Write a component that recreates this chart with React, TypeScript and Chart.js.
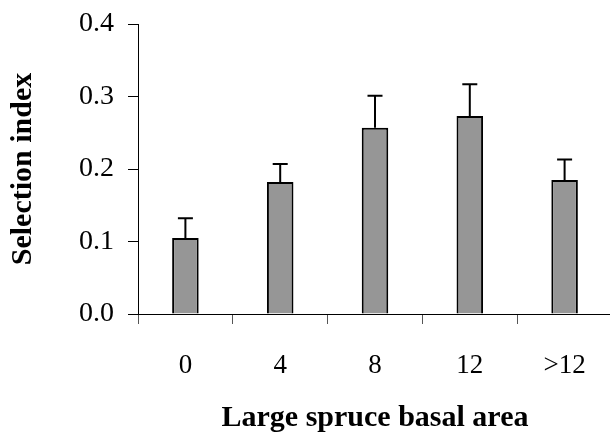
import React, { useEffect, useRef } from "react";
import { Chart, registerables } from "chart.js";

Chart.register(...registerables);

const categories = ["0", "4", "8", "12", ">12"];
const selectionIndex = [0.105, 0.182, 0.257, 0.273, 0.185];
const errorUpper = [0.027, 0.025, 0.044, 0.044, 0.028];
const yMin = 0;
const yMax = 0.4;
const yStep = 0.1;

const FONT = "'Liberation Serif', 'Times New Roman', serif";

const errorBarPlugin = {
  id: "errorBars",
  afterDatasetsDraw(chart: any) {
    const ctx = chart.ctx;
    const meta = chart.getDatasetMeta(0);
    const y = chart.scales.y;
    ctx.save();
    ctx.strokeStyle = "#000";
    ctx.lineWidth = 2;
    meta.data.forEach((bar: any, i: number) => {
      const v = selectionIndex[i];
      const base = y.getPixelForValue(v);
      const top = y.getPixelForValue(v + errorUpper[i]);
      ctx.beginPath();
      ctx.moveTo(bar.x, base);
      ctx.lineTo(bar.x, top);
      ctx.moveTo(bar.x - 7.5, top);
      ctx.lineTo(bar.x + 7.5, top);
      ctx.stroke();
    });
    ctx.restore();
  },
};

export default function App() {
  const ref = useRef<HTMLCanvasElement | null>(null);

  useEffect(() => {
    if (!ref.current) return;
    const chart = new Chart(ref.current, {
      type: "bar",
      data: {
        labels: categories,
        datasets: [
          {
            data: selectionIndex,
            backgroundColor: "#969696",
            borderColor: "#000",
            borderWidth: 2,
            categoryPercentage: 1,
            barPercentage: 0.28,
          },
        ],
      },
      options: {
        responsive: false,
        animation: false,
        layout: { padding: { top: 24, left: 0, right: 0, bottom: 0 } },
        plugins: {
          legend: { display: false },
          tooltip: { enabled: false },
        },
        scales: {
          x: {
            grid: {
              offset: true,
              drawOnChartArea: false,
              drawTicks: true,
              tickLength: 10,
              color: "#555",
            },
            border: { color: "#000", width: 1 },
            ticks: {
              color: "#000",
              padding: 26,
              font: { family: FONT, size: 27 },
            },
            title: {
              display: true,
              text: "Large spruce basal area",
              color: "#000",
              padding: 0,
              font: { family: FONT, size: 30, weight: "bold", lineHeight: 0.9 },
            },
            afterFit: (s: any) => {
              s.height = 118;
              s.paddingLeft = 0;
              s.paddingRight = 0;
            },
          },
          y: {
            min: yMin,
            max: yMax,
            grid: {
              drawOnChartArea: false,
              drawTicks: true,
              tickLength: 10,
              color: "#000",
            },
            border: { color: "#000", width: 1 },
            ticks: {
              stepSize: yStep,
              color: "#000",
              padding: 14,
              font: { family: FONT, size: 28 },
              callback: (v: any) => Number(v).toFixed(1),
            },
            title: {
              display: true,
              text: "Selection index",
              color: "#000",
              padding: { top: 5, bottom: 0 },
              font: { family: FONT, size: 30, weight: "bold" },
            },
            afterFit: (s: any) => {
              s.width = 138;
              s.paddingTop = 0;
              s.paddingBottom = 0;
            },
          },
        },
      },
      plugins: [errorBarPlugin],
    });
    return () => chart.destroy();
  }, []);

  return (
    <div
      style={{
        position: "fixed",
        left: 0,
        top: 0,
        width: 610,
        height: 432,
        overflow: "hidden",
        background: "#fff",
      }}
    >
      <canvas ref={ref} width={612} height={432} style={{ display: "block" }} />
    </div>
  );
}
